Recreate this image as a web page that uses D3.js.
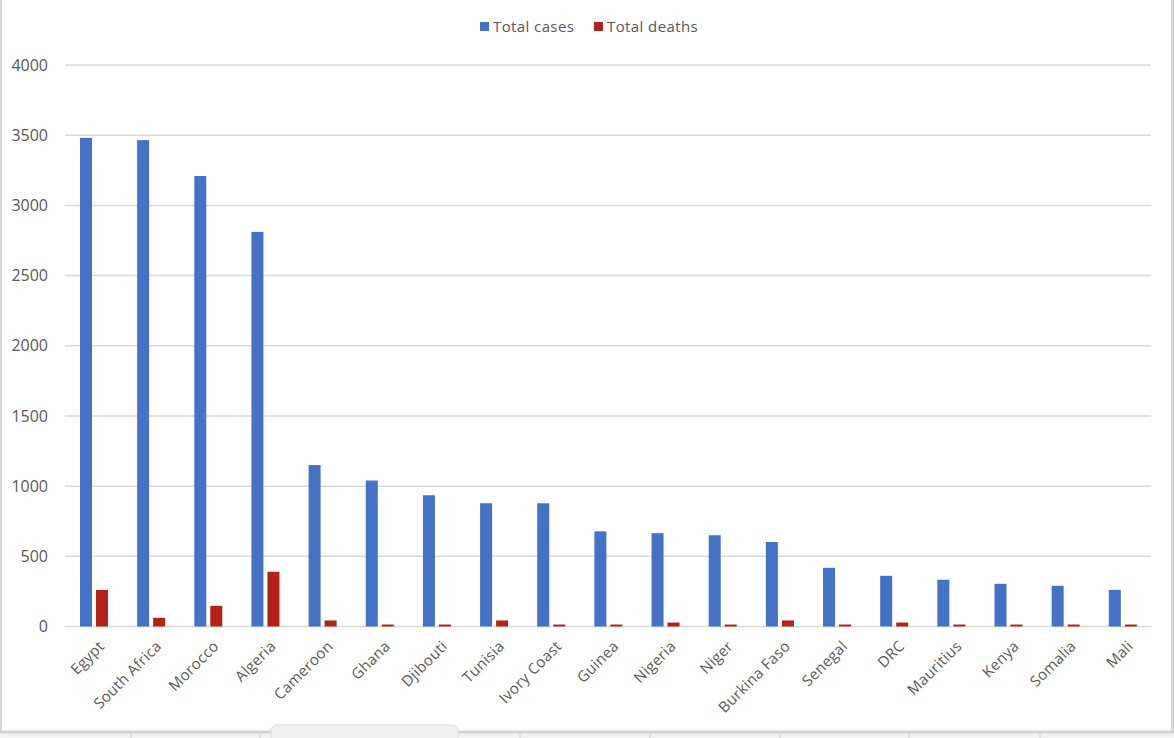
<!DOCTYPE html>
<html>
<head>
<meta charset="utf-8">
<script src="https://cdn.jsdelivr.net/npm/d3@7"></script>
<style>
  html, body { margin: 0; padding: 0; background: #ffffff; }
  svg { display: block; font-family: "Open Sans", "Noto Sans", sans-serif; }
</style>
</head>
<body>
<svg id="chart" width="1174" height="738"></svg>
<script>
// Chart data
const countries = ["Egypt", "South Africa", "Morocco", "Algeria", "Cameroon", "Ghana",
  "Djibouti", "Tunisia", "Ivory Coast", "Guinea", "Nigeria", "Niger", "Burkina Faso",
  "Senegal", "DRC", "Mauritius", "Kenya", "Somalia", "Mali"];
const totalCases = [3481, 3465, 3209, 2811, 1150, 1040, 935, 878, 878, 678, 665, 650,
  602, 418, 361, 333, 304, 290, 261];
const totalDeaths = [260, 62, 147, 390, 43, 14, 14, 43, 14, 14, 28, 14, 43, 14, 28, 14, 14, 14, 14];
const yTicks = [0, 500, 1000, 1500, 2000, 2500, 3000, 3500, 4000];
const seriesNames = ["Total cases", "Total deaths"];
const seriesColors = ["#4472C4", "#B3221A"];

const svg = d3.select("#chart");
const W = 1174, H = 738;
const margin = { top: 65, right: 23, bottom: 111.5, left: 65 };

// window frame around the chart (light grey edges and sheet tab strip)
svg.append("line").attr("x1", 1).attr("x2", 1).attr("y1", 0).attr("y2", 732)
  .attr("stroke", "#d6d6d6").attr("stroke-width", 2);
svg.append("line").attr("x1", 1172.5).attr("x2", 1172.5).attr("y1", 0).attr("y2", 732)
  .attr("stroke", "#d6d6d6").attr("stroke-width", 3);
svg.append("rect").attr("x", 0).attr("y", 731).attr("width", W).attr("height", 7)
  .attr("fill", "#f3f3f3");
svg.append("line").attr("x1", 0).attr("x2", W).attr("y1", 732).attr("y2", 732)
  .attr("stroke", "#d4d4d4").attr("stroke-width", 3);
[131, 260, 520, 650, 780, 909, 1040].forEach(x => {
  svg.append("line").attr("x1", x).attr("x2", x).attr("y1", 734).attr("y2", 738)
    .attr("stroke", "#d0d0d0");
});
svg.append("rect").attr("x", 271).attr("y", 725).attr("width", 187).attr("height", 20)
  .attr("rx", 6).attr("fill", "#f0f0f0").attr("stroke", "#dddddd");

// scales
const x = d3.scaleBand()
  .domain(countries)
  .range([margin.left, W - margin.right])
  .paddingInner(0)
  .paddingOuter(0);

const xSeries = d3.scaleBand()
  .domain(seriesNames)
  .range([x.bandwidth() * 0.262, x.bandwidth() * 0.752])
  .paddingInner(0.25);

const y = d3.scaleLinear()
  .domain([0, 4000])
  .range([H - margin.bottom, margin.top]);

// gridlines
svg.append("g")
  .selectAll("line")
  .data(yTicks)
  .join("line")
  .attr("x1", margin.left)
  .attr("x2", W - margin.right)
  .attr("y1", d => y(d))
  .attr("y2", d => y(d))
  .attr("stroke", "#d9d9d9")
  .attr("stroke-width", 1.5);

// y tick labels
svg.append("g")
  .selectAll("text")
  .data(yTicks)
  .join("text")
  .attr("x", 48)
  .attr("y", d => y(d))
  .attr("dy", "0.35em")
  .attr("text-anchor", "end")
  .attr("fill", "#595959")
  .style("font-size", "16px")
  .text(d => d);

// bars
const rows = countries.map((c, i) => ({ country: c, values: [totalCases[i], totalDeaths[i]] }));

const groups = svg.append("g")
  .selectAll("g")
  .data(rows)
  .join("g")
  .attr("transform", d => `translate(${x(d.country)},0)`);

groups.selectAll("rect")
  .data(d => d.values.map((v, j) => ({ series: seriesNames[j], value: v, color: seriesColors[j] })))
  .join("rect")
  .attr("x", d => xSeries(d.series))
  .attr("width", xSeries.bandwidth())
  .attr("y", d => y(d.value))
  .attr("height", d => y(0) - y(d.value))
  .attr("fill", d => d.color);

// x category labels, rotated 45 degrees
svg.append("g")
  .selectAll("text")
  .data(countries)
  .join("text")
  .attr("transform", d => `translate(${x(d) + x.bandwidth() / 2 + 8},${y(0) + 17}) rotate(-45)`)
  .attr("text-anchor", "end")
  .attr("dy", "0.35em")
  .attr("fill", "#595959")
  .style("font-size", "15px")
  .style("letter-spacing", "0.3px")
  .text(d => d);

// legend
const legendX = [480, 594];
const legend = svg.append("g")
  .selectAll("g")
  .data(seriesNames)
  .join("g")
  .attr("transform", (d, i) => `translate(${legendX[i]},22)`);

legend.append("rect")
  .attr("width", 9)
  .attr("height", 9)
  .attr("fill", (d, i) => seriesColors[i]);

legend.append("text")
  .attr("x", 13)
  .attr("y", 4.5)
  .attr("dy", "0.35em")
  .attr("fill", "#595959")
  .style("font-size", "15px")
  .style("letter-spacing", "0.4px")
  .text(d => d);
</script>
</body>
</html>
